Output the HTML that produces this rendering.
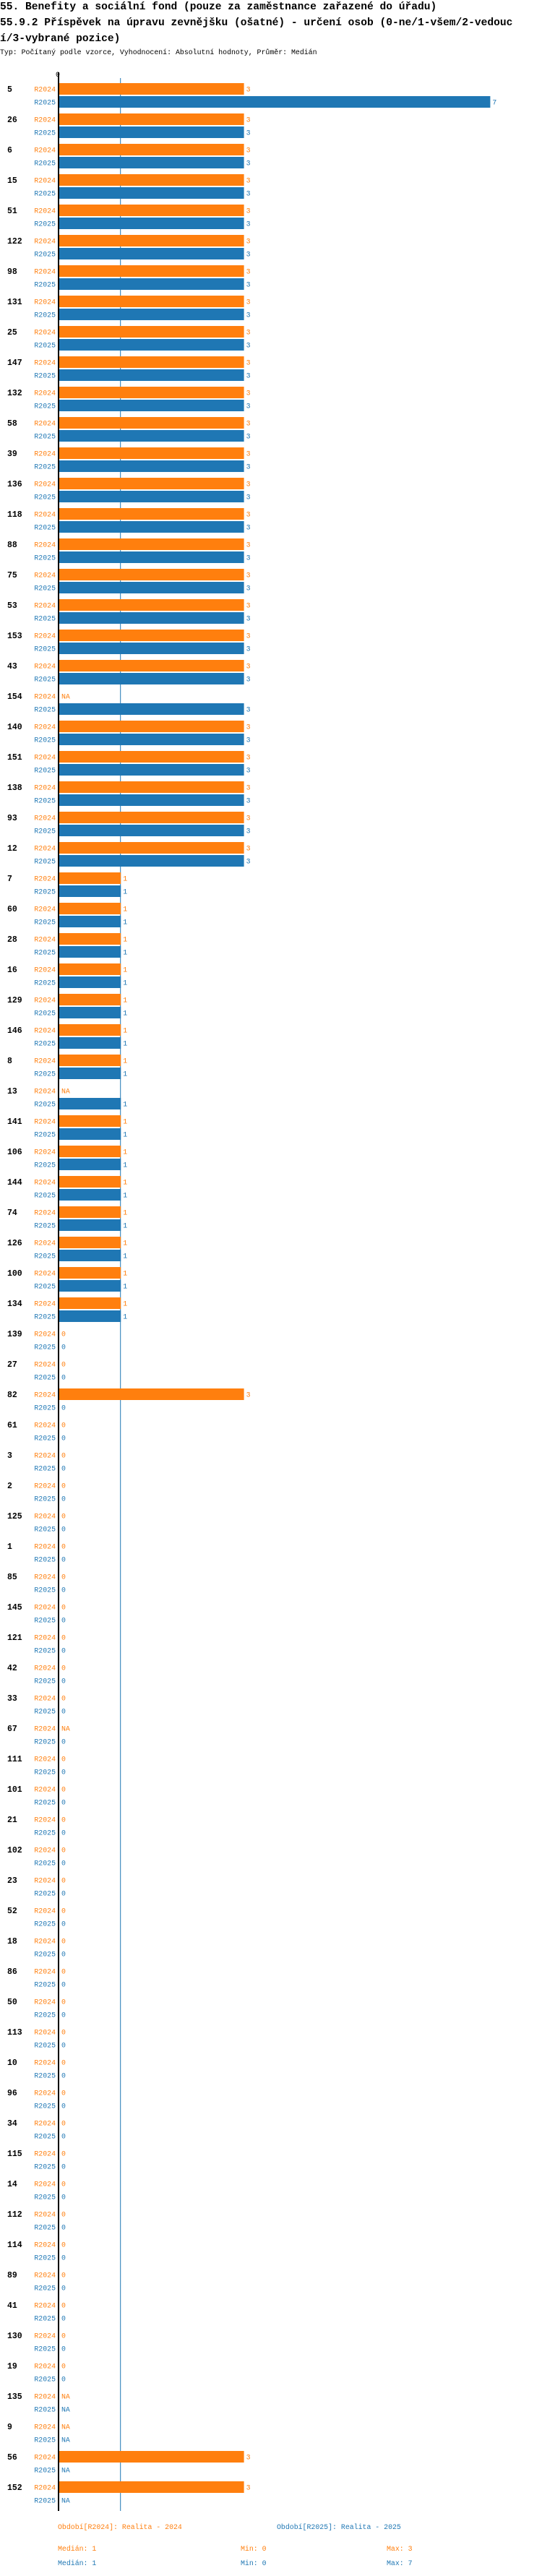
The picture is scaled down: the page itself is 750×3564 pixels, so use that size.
<!DOCTYPE html>
<html><head><meta charset="utf-8">
<style>
html,body{margin:0;padding:0;background:#fff;}
body{width:750px;height:3564px;overflow:hidden;position:relative;}
svg{position:absolute;left:0;top:0;}
text{font-family:"Liberation Mono","DejaVu Sans Mono",monospace;}
</style></head>
<body>
<svg id="chart" width="750" height="3564" xmlns="http://www.w3.org/2000/svg">
<text x="0" y="13" font-size="14.6" font-weight="bold">55. Benefity a sociální fond (pouze za zaměstnance zařazené do úřadu)</text>
<text x="0" y="35" font-size="14.6" font-weight="bold">55.9.2 Příspěvek na úpravu zevnějšku (ošatné) - určení osob (0-ne/1-všem/2-vedouc</text>
<text x="0" y="57" font-size="14.6" font-weight="bold">í/3-vybrané pozice)</text>
<text x="0" y="75" font-size="9.9">Typ: Počítaný podle vzorce, Vyhodnocení: Absolutní hodnoty, Průměr: Medián</text>
<g id="plot"></g>
<text x="80" y="3499" font-size="9.9" fill="#ff7f0e">Období[R2024]: Realita - 2024</text>
<text x="383" y="3499" font-size="9.9" fill="#1f77b4">Období[R2025]: Realita - 2025</text>
<text x="80" y="3529" font-size="9.9" fill="#ff7f0e">Medián: 1</text>
<text x="333" y="3529" font-size="9.9" fill="#ff7f0e">Min: 0</text>
<text x="535" y="3529" font-size="9.9" fill="#ff7f0e">Max: 3</text>
<text x="80" y="3549" font-size="9.9" fill="#1f77b4">Medián: 1</text>
<text x="333" y="3549" font-size="9.9" fill="#1f77b4">Min: 0</text>
<text x="535" y="3549" font-size="9.9" fill="#1f77b4">Max: 7</text>
</svg>
<script>
const categories = [5,26,6,15,51,122,98,131,25,147,132,58,39,136,118,88,75,53,153,43,154,140,151,138,93,12,7,60,28,16,129,146,8,13,141,106,144,74,126,100,134,139,27,82,61,3,2,125,1,85,145,121,42,33,67,111,101,21,102,23,52,18,86,50,113,10,96,34,115,14,112,114,89,41,130,19,135,9,56,152];
const values2024 = [3,3,3,3,3,3,3,3,3,3,3,3,3,3,3,3,3,3,3,3,null,3,3,3,3,3,1,1,1,1,1,1,1,null,1,1,1,1,1,1,1,0,0,3,0,0,0,0,0,0,0,0,0,0,null,0,0,0,0,0,0,0,0,0,0,0,0,0,0,0,0,0,0,0,0,0,null,null,3,3];
const values2025 = [7,3,3,3,3,3,3,3,3,3,3,3,3,3,3,3,3,3,3,3,3,3,3,3,3,3,1,1,1,1,1,1,1,1,1,1,1,1,1,1,1,0,0,0,0,0,0,0,0,0,0,0,0,0,0,0,0,0,0,0,0,0,0,0,0,0,0,0,0,0,0,0,0,0,0,0,null,null,null,null];
const seriesLabels = ["R2024","R2025"];
const axisTicks = [0,1];
const axisTickLabels = ["0"];
const medianValue = 1;

const NS = "http://www.w3.org/2000/svg";
const plot = document.getElementById('plot');
const X0 = 82, UNIT = 85.2, Y0 = 123, STEP = 42;
const xScale = v => X0 + v * UNIT;
const yScale = i => Y0 + i * STEP;
const colors = ["#ff7f0e","#1f77b4"];
function mk(tag, attrs){ const e=document.createElementNS(NS,tag); for(const k in attrs) e.setAttribute(k,attrs[k]); plot.appendChild(e); return e; }

const yEnd = yScale(categories.length - 1) + 33;
// median tick line
const ml = mk('line',{x1:xScale(medianValue)-0.5,x2:xScale(medianValue)-0.5,y1:108,y2:yEnd,stroke:"#1f77b4","stroke-width":1});



categories.forEach((c,i)=>{
  const gy = yScale(i);
  const g = mk('text',{x:10,y:gy+4,"font-size":11.5,"font-weight":"bold"});
  g.textContent = String(c);
  
  
  [values2024, values2025].forEach((arr,s)=>{
    const v = arr[i];
    const cy = gy + s*18;
    const lab = mk('text',{x:77,y:cy+3.5,"font-size":9.9,"text-anchor":"end",fill:colors[s]});
    lab.textContent = seriesLabels[s];
    
    
    let endX = X0;
    if (v !== null && v > 0) {
      const r = mk('rect',{x:X0,y:cy-8,width:xScale(v)-X0,height:16,fill:colors[s]});
      
      
      endX = xScale(v);
    }
    const vt = mk('text',{x:endX+3,y:cy+3.5,"font-size":9.9,fill:colors[s]});
    vt.textContent = v === null ? "NA" : String(v);
    
    
  });
});
// axis line
const ax = mk('line',{x1:81,x2:81,y1:100,y2:yEnd,stroke:"#000","stroke-width":2});


axisTickLabels.forEach((t,k)=>{
  const tl = mk('text',{x:xScale(axisTicks[k])-2,y:106,"font-size":9.9,"text-anchor":"middle"});
  tl.textContent = t;
  
  
});
</script>
</body></html>
